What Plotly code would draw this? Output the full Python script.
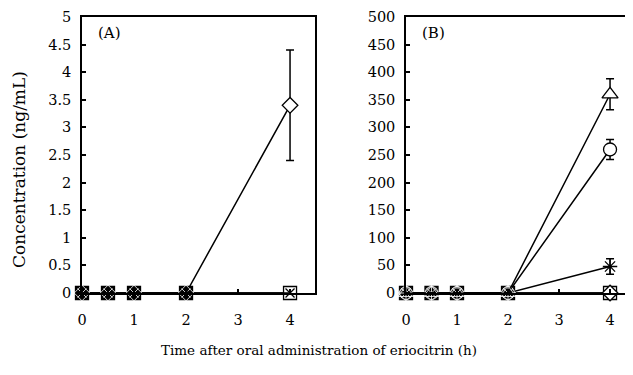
import plotly.graph_objects as go

time_h = [0, 0.5, 1, 2, 4]

# Panel A (ng/mL)
a_diamond = [0, 0, 0, 0, 3.4]
a_diamond_err = [0, 0, 0, 0, 1.0]
a_square = [0, 0, 0, 0, 0]
a_cross = [0, 0, 0, 0, 0]

# Panel B (ng/mL)
b_triangle = [0, 0, 0, 0, 360]
b_triangle_err = [0, 0, 0, 0, 28]
b_circle = [0, 0, 0, 0, 260]
b_circle_err = [0, 0, 0, 0, 18]
b_star = [0, 0, 0, 0, 48]
b_star_err = [0, 0, 0, 0, 14]
b_diamond = [0, 0, 0, 0, 0]
b_square = [0, 0, 0, 0, 0]

x_ticks = [0, 1, 2, 3, 4]
a_yticks = [0, 0.5, 1, 1.5, 2, 2.5, 3, 3.5, 4, 4.5, 5]
b_yticks = list(range(0, 501, 50))

FONT = "DejaVu Serif"
sq_fill = ["black", "black", "black", "black", "white"]
ov_fill = ["rgba(0,0,0,0)"] * 4 + ["white"]
ov_line = ["white", "white", "white", "white", "black"]
ov_lw = [0.8, 0.8, 0.8, 0.8, 1.3]

fig = go.Figure()


def add(x, y, xa, ya, symbol, size, err=None, fill="white", linecolor="black", lw=1.3):
    kw = {}
    if err is not None:
        kw["error_y"] = dict(type="data", array=err, visible=True, color="black",
                             thickness=1.5, width=4)
    fig.add_trace(go.Scatter(
        x=x, y=y, xaxis=xa, yaxis=ya, mode="lines+markers",
        line=dict(color="black", width=1.5),
        marker=dict(symbol=symbol, size=size, color=fill,
                    line=dict(color=linecolor, width=lw)),
        cliponaxis=False, showlegend=False, **kw))


# Panel A
add(time_h, a_square, "x", "y", "square", 13, fill=sq_fill, linecolor="black", lw=1.3)
add(time_h, a_cross, "x", "y", "x-thin", 9, fill=ov_fill, linecolor=ov_line, lw=ov_lw)
add(time_h, a_diamond, "x", "y", "diamond", 12, err=a_diamond_err, fill=ov_fill, linecolor=ov_line, lw=ov_lw)

# Panel B
add(time_h, b_square, "x2", "y2", "square", 13, fill=sq_fill, linecolor="black", lw=1.3)
add(time_h, b_diamond, "x2", "y2", "diamond", 12, fill=ov_fill, linecolor=ov_line, lw=ov_lw)
add(time_h, b_star, "x2", "y2", "asterisk", 12, err=b_star_err, fill=ov_fill, linecolor=ov_line, lw=ov_lw)
add(time_h, b_circle, "x2", "y2", "circle", 13, err=b_circle_err, fill=ov_fill, linecolor=ov_line, lw=ov_lw)
add(time_h, b_triangle, "x2", "y2", "triangle-up", 14, err=b_triangle_err, fill=ov_fill, linecolor=ov_line, lw=ov_lw)

# page has an 8px body margin; work in page coordinates minus that offset
OFF = 8
W, H = 633 - OFF, 375 - OFF


def px(v):
    return (v - OFF) / W


def py(v):
    return 1 - (v - OFF) / H


ydom = [py(293), py(17)]

common_x = dict(tickmode="array", tickvals=x_ticks, ticks="inside", ticklen=4, tickwidth=1.5,
                tickcolor="black", showline=True, linecolor="black", linewidth=1.5, mirror=True,
                showgrid=False, zeroline=False, ticklabelstandoff=13, automargin=False,
                ticklabeloverflow="allow",
                tickfont=dict(family=FONT, size=14.5, color="black"))
common_y = dict(ticks="inside", ticklen=4, tickwidth=1.5, tickcolor="black", showline=True,
                linecolor="black", linewidth=1.5, mirror=True, showgrid=False, zeroline=False,
                ticklabelstandoff=6, automargin=False, ticklabeloverflow="allow",
                tickfont=dict(family=FONT, size=14.5, color="black"))

fig.update_layout(
    width=W, height=H,
    margin=dict(l=0, r=0, t=0, b=0, autoexpand=False),
    paper_bgcolor="white", plot_bgcolor="white",
    xaxis=dict(domain=[px(82), px(315)], range=[0, 4.48], anchor="y", **common_x),
    yaxis=dict(domain=ydom, range=[0, 5], tickvals=a_yticks, ticktext=[str(v) for v in a_yticks],
               anchor="x", **common_y),
    xaxis2=dict(domain=[px(406), 1.0], range=[0, 4.45], anchor="y2", **common_x),
    yaxis2=dict(domain=ydom, range=[0, 500], tickvals=b_yticks, anchor="x2", **common_y),
    annotations=[
        dict(text="(A)", x=px(96), y=py(33), xref="paper", yref="paper", xanchor="left",
             yanchor="middle", showarrow=False, font=dict(family=FONT, size=15, color="black")),
        dict(text="(B)", x=px(420), y=py(33), xref="paper", yref="paper", xanchor="left",
             yanchor="middle", showarrow=False, font=dict(family=FONT, size=15, color="black")),
        dict(text="Time after oral administration of eriocitrin (h)", x=px(319), y=py(350),
             xref="paper", yref="paper", xanchor="center", yanchor="middle", showarrow=False,
             font=dict(family=FONT, size=13.5, color="black")),
        dict(text="Concentration (ng/mL)", x=px(19), y=py(170), xref="paper", yref="paper",
             xanchor="center", yanchor="middle", textangle=-90, showarrow=False,
             font=dict(family=FONT, size=17, color="black")),
    ],
)

fig.write_html("out.html")
